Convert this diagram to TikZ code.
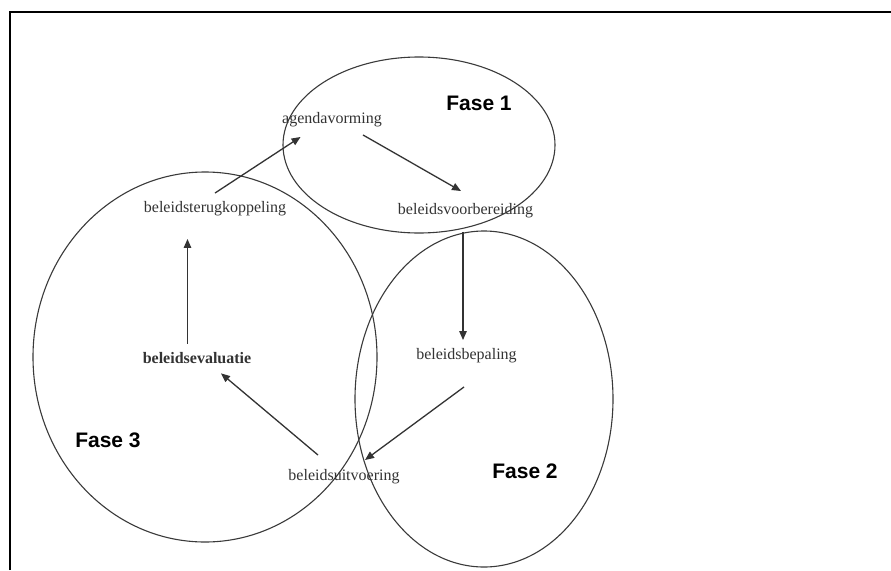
\documentclass[tikz,border=0pt]{standalone}
\usepackage{fontspec}
\setmainfont{Liberation Serif}
\newfontfamily\fasefont{Liberation Sans}
\usetikzlibrary{arrows.meta,calc}
\definecolor{inkgray}{HTML}{333333}
\definecolor{ringgray}{HTML}{3A3A3A}
\tikzset{
  stage/.style={inner sep=0pt, text=inkgray, font=\fontsize{16}{18}\selectfont},
  phase/.style={inner sep=0pt, text=black, font=\fasefont\bfseries\fontsize{21}{24}\selectfont},
  ring/.style={draw=ringgray, line width=1.1pt},
  flow/.style={draw=inkgray, line width=1.3pt, -{Triangle[length=9pt,width=7.5pt]}},
  frame/.style={draw=black, line width=2pt}
}
\begin{document}
\begin{tikzpicture}[x=1pt,y=-1pt]
  \useasboundingbox (0,0) rectangle (891,570);
  \fill[white] (0,0) rectangle (891,570);

  % outer frame (open at right and bottom)
  \draw[frame] (9.5,570) -- (9.5,11.5) -- (891,11.5);

  % the three phase regions
  \draw[ring] (419,145) ellipse [x radius=136, y radius=88];
  \draw[ring] (205,357) ellipse [x radius=172, y radius=185];
  \draw[ring] (484,399) ellipse [x radius=129, y radius=168];

  % phase labels
  \node[phase] (f1) at (479,103.5) {Fase 1};
  \node[phase] (f2) at (525,471) {Fase 2};
  \node[phase] (f3) at (108,440) {Fase 3};

  % policy cycle stages
  \node[stage] (agenda) at (332,120) {agendavorming};
  \node[stage] (voor)   at (465.5,211) {beleidsvoorbereiding};
  \node[stage] (bepal)  at (466.5,356) {beleidsbepaling};
  \node[stage] (uitv)   at (344,477) {beleidsuitvoering};
  \node[stage, font=\bfseries\fontsize{16}{18}\selectfont] (eval) at (197,358) {beleidsevaluatie};
  \node[stage] (terug)  at (215,209) {beleidsterugkoppeling};

  % cycle arrows
  \draw[flow] ($(agenda.south)+(31,7.5)$) -- ($(voor.north)+(-4.5,-12.5)$);
  \draw[flow] ($(voor.south)+(-2.5,13.5)$) -- ($(bepal.north)+(-3.5,-8.5)$);
  \draw[flow] ($(bepal.south)+(-2.5,23.5)$) -- ($(uitv.north)+(21,-9.5)$);
  \draw[flow] ($(uitv.north)+(-26,-14.5)$) -- ($(eval.south)+(24,9.5)$);
  \draw[flow] ($(eval.north)+(-9.5,-8.5)$) -- ($(terug.south)+(-27.5,22.5)$);
  \draw[flow] ($(terug.north)+(0,-8.5)$) -- ($(agenda.south west)+(18.5,9.5)$);
\end{tikzpicture}
\end{document}
